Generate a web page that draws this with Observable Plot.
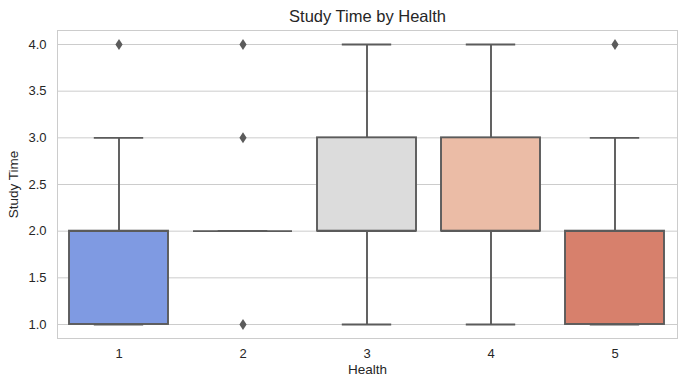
<!DOCTYPE html>
<html>
<head>
<meta charset="utf-8">
<script src="https://cdn.jsdelivr.net/npm/d3@7"></script>
<script src="https://cdn.jsdelivr.net/npm/@observablehq/plot@0.6"></script>
<style>
  body { margin: 0; background: #fff; }
  svg { font-family: "Liberation Sans", Arial, sans-serif; }
</style>
</head>
<body>
<div id="chart"></div>
<script>
const health = ["1", "2", "3", "4", "5"];
const q1 = [1, 2, 2, 2, 1];
const median = [2, 2, 2, 2, 2];
const q3 = [2, 2, 3, 3, 2];
const whiskerLow = [1, 2, 1, 1, 1];
const whiskerHigh = [3, 2, 4, 4, 3];
const boxColors = ["#7f9ae2", "#b0c7f2", "#dcdcdc", "#ebbca6", "#d7806c"];
const outlierHealth = ["1", "2", "2", "2", "5"];
const outlierValue = [4, 1, 3, 4, 4];
const yTicks = [1.0, 1.5, 2.0, 2.5, 3.0, 3.5, 4.0];

const boxes = health.map((h, i) => ({
  health: h, q1: q1[i], median: median[i], q3: q3[i],
  lo: whiskerLow[i], hi: whiskerHigh[i], color: boxColors[i]
}));
const outliers = outlierHealth.map((h, i) => ({ health: h, value: outlierValue[i] }));

const lineColor = "#5b5b5b";
const textColor = "#262626";
const lw = 1.9;
const diamond = {
  draw(ctx) {
    ctx.moveTo(0, -5.5);
    ctx.lineTo(3.6, 0);
    ctx.lineTo(0, 5.5);
    ctx.lineTo(-3.6, 0);
    ctx.closePath();
  }
};

const W = 687, H = 387;
const mL = 57, mR = 10, mT = 30, mB = 49;
const step = (W - mL - mR) / health.length;
const capInset = step * 0.2;

const chart = Plot.plot({
  width: W,
  height: H,
  marginLeft: mL,
  marginRight: mR,
  marginTop: mT,
  marginBottom: mB,
  style: { fontSize: "13px", color: textColor, fontFamily: "'Liberation Sans', Arial, sans-serif", background: "#fff" },
  x: { type: "band", domain: health, paddingInner: 0.2, paddingOuter: 0.1, label: null, tickSize: 0, tickPadding: 10 },
  y: { domain: [0.85, 4.15], ticks: yTicks, tickFormat: d3.format(".1f"), label: null, tickSize: 0, tickPadding: 11 },
  marks: [
    Plot.gridY(yTicks, { stroke: "#cccccc", strokeOpacity: 1, strokeWidth: 1 }),
    Plot.frame({ stroke: "#cccccc", strokeWidth: 1 }),
    Plot.ruleX(boxes, { x: "health", y1: "lo", y2: "q1", stroke: lineColor, strokeWidth: lw }),
    Plot.ruleX(boxes, { x: "health", y1: "q3", y2: "hi", stroke: lineColor, strokeWidth: lw }),
    Plot.tickY(boxes, { x: "health", y: "lo", stroke: lineColor, strokeWidth: lw, insetLeft: capInset, insetRight: capInset }),
    Plot.tickY(boxes, { x: "health", y: "hi", stroke: lineColor, strokeWidth: lw, insetLeft: capInset, insetRight: capInset }),
    Plot.barY(boxes, { x: "health", y1: "q1", y2: "q3", fill: "color", stroke: lineColor, strokeWidth: lw }),
    Plot.tickY(boxes, { x: "health", y: "median", stroke: lineColor, strokeWidth: lw }),
    Plot.dot(outliers, { x: "health", y: "value", symbol: diamond, fill: lineColor, stroke: "none" }),
    Plot.text(["Study Time by Health"], { frameAnchor: "top", lineAnchor: "middle", dy: -14, fontSize: 16.5, fill: textColor }),
    Plot.text(["Health"], { frameAnchor: "bottom", lineAnchor: "middle", dy: 31, fontSize: 13.5, fill: textColor }),
    Plot.text(["Study Time"], { frameAnchor: "left", lineAnchor: "middle", textAnchor: "middle", rotate: -90, dx: -44, fontSize: 13.5, fill: textColor })
  ]
});

document.getElementById("chart").appendChild(chart);
</script>
</body>
</html>
